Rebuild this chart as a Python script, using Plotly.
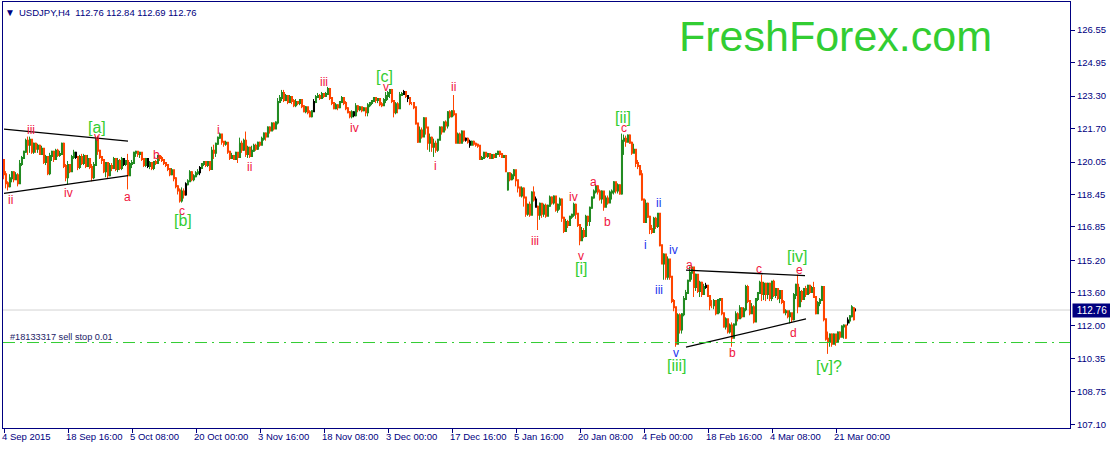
import plotly.graph_objects as go

# USDJPY H4 bars
opens = [
120.15,119.45,119.00,118.85,119.25,119.55,119.20,119.40,119.00,119.95,
120.25,120.55,121.10,120.90,121.15,120.55,120.95,120.70,120.85,120.45,
120.70,120.05,120.30,119.50,120.35,120.55,120.20,120.60,120.40,120.45,
120.95,119.85,119.30,119.90,119.60,120.30,120.50,120.30,119.80,120.30,
120.00,120.35,119.85,120.20,119.80,119.30,119.90,121.20,120.60,120.30,
120.15,119.60,120.00,119.40,119.85,119.75,120.20,119.70,120.10,119.75,
120.20,119.95,120.10,119.40,119.95,120.00,120.50,120.55,120.45,120.50,
120.20,119.90,120.20,119.85,120.00,119.75,120.05,120.00,120.35,120.25,
120.15,120.00,119.90,119.70,119.45,119.65,119.25,118.85,118.65,118.15,
118.60,118.45,118.95,119.10,119.55,119.20,119.35,119.50,119.55,119.75,
119.95,120.05,119.90,120.05,119.70,120.60,120.50,120.95,121.25,121.40,
121.05,120.95,121.00,120.55,120.25,120.35,120.20,120.50,120.30,120.95,
120.65,121.10,120.45,120.75,120.35,120.60,120.85,120.70,121.00,120.90,
121.20,121.45,121.30,121.75,121.60,121.95,121.70,122.00,123.00,123.20,
123.45,123.10,123.30,123.00,123.25,123.05,122.85,123.00,122.95,123.10,
122.80,122.55,122.75,122.50,122.30,122.55,123.00,123.25,123.30,123.20,
123.40,123.30,123.40,123.65,123.20,122.95,122.70,122.85,122.75,123.00,
123.20,122.95,122.70,122.50,122.30,122.50,122.35,122.80,122.65,122.75,
122.60,122.70,122.50,122.85,122.95,123.05,123.20,123.10,123.15,122.90,
122.85,123.10,123.30,123.45,123.60,123.05,122.50,122.90,122.70,123.35,
123.40,123.50,123.30,123.20,122.95,122.95,122.75,121.95,121.05,121.60,
121.30,122.20,121.75,121.00,121.25,120.80,120.95,120.65,121.15,121.75,
121.55,122.00,121.85,122.50,122.30,122.55,122.40,121.00,121.40,121.00,
121.55,121.15,121.20,121.05,120.90,121.05,120.95,120.90,120.85,120.20,
120.25,120.50,120.35,120.45,120.25,120.40,120.30,120.45,120.55,120.45,
120.30,120.35,118.70,119.50,119.20,119.40,119.65,119.15,118.80,118.40,
118.75,118.30,117.50,117.95,117.45,118.55,118.20,117.85,117.45,118.00,
117.50,117.90,117.40,117.90,118.30,118.05,118.35,117.70,117.95,118.20,
117.30,116.65,117.10,116.95,117.35,117.45,117.95,117.50,116.95,116.20,
116.65,116.40,117.35,117.15,117.80,118.30,118.60,118.85,118.60,118.25,
118.60,117.85,118.25,118.05,118.55,118.60,119.05,118.65,118.90,118.50,
121.10,121.20,121.05,121.35,121.00,120.50,120.65,120.00,119.85,119.45,
118.20,117.10,118.00,117.35,116.75,116.60,117.25,116.90,117.50,115.95,
115.05,115.50,114.40,115.25,114.40,113.20,112.90,111.10,112.50,111.80,
112.55,113.30,113.60,114.20,114.60,114.85,113.90,114.50,113.70,114.10,
113.55,113.90,113.95,113.45,113.00,113.00,113.20,112.60,113.25,113.30,
112.60,111.95,112.30,111.70,112.00,111.40,112.05,112.55,112.35,112.85,
112.45,112.80,113.90,113.20,112.60,112.90,112.20,113.30,113.60,114.10,
113.55,114.05,113.55,114.05,113.35,114.15,113.50,113.80,113.35,113.70,
113.15,112.65,112.70,112.45,112.60,112.30,113.50,114.00,112.95,113.65,
113.30,113.80,113.55,113.95,113.65,113.85,113.40,112.60,113.10,113.25,
113.90,112.30,111.35,111.20,111.55,111.10,111.55,111.20,111.65,111.45,
111.95,112.00,112.15,112.25,112.45,112.85,112.76]
highs = [
120.20,119.60,119.10,119.45,119.60,119.60,119.55,119.50,120.15,120.35,
120.60,121.20,121.30,121.30,121.00,121.00,121.00,120.95,120.90,120.85,
120.65,120.40,120.30,120.50,120.60,120.60,120.70,120.70,120.60,121.00,
121.00,119.95,120.10,119.95,120.40,120.65,120.55,120.35,120.40,120.45,
120.45,120.40,120.40,120.25,119.95,120.05,121.30,121.35,120.65,120.35,
120.20,120.05,120.00,120.00,120.00,120.30,120.25,120.25,120.20,120.30,
120.00,120.15,120.45,120.05,120.15,120.55,120.60,120.55,120.55,120.45,
120.20,120.25,120.05,120.10,120.05,120.10,120.15,120.40,120.40,120.35,
120.20,120.00,119.95,119.75,119.75,119.65,119.30,118.90,118.75,118.80,
118.75,119.05,119.20,119.65,119.60,119.45,119.60,119.70,119.85,120.00,
120.10,120.10,120.10,120.10,120.80,120.90,121.00,121.30,121.50,121.35,
121.05,121.10,121.00,120.60,120.50,120.40,120.55,120.50,121.25,121.10,
121.20,121.55,120.85,120.80,120.85,120.95,120.95,121.05,121.05,121.30,
121.50,121.50,121.80,121.80,122.00,122.00,122.05,123.20,123.35,123.60,
123.60,123.40,123.35,123.35,123.30,123.15,123.15,123.05,123.15,123.15,
122.85,122.80,122.75,122.60,122.60,123.15,123.35,123.45,123.40,123.50,
123.45,123.50,123.75,123.70,123.25,123.00,122.95,122.90,123.05,123.30,
123.20,123.05,122.75,122.55,122.60,122.55,122.95,122.85,122.80,122.75,
122.75,122.70,122.95,123.00,123.10,123.25,123.25,123.20,123.15,123.00,
123.20,123.50,123.55,123.65,123.65,123.00,123.00,123.00,123.50,123.50,
123.60,123.50,123.30,123.20,123.00,123.00,122.55,121.90,121.80,121.75,
122.25,122.20,121.70,121.45,121.30,121.20,121.10,121.15,121.80,121.80,
122.05,122.10,122.55,122.60,122.60,123.35,122.35,121.50,121.50,121.60,
121.55,121.25,121.25,121.15,121.10,121.10,121.00,120.95,120.80,120.35,
120.55,120.50,120.50,120.45,120.45,120.45,120.50,120.60,120.60,120.50,
120.40,120.40,119.50,119.55,119.50,119.70,119.25,119.00,118.80,118.85,
118.80,118.20,118.00,118.10,118.60,118.85,118.35,117.90,118.05,118.00,
118.00,118.00,117.95,118.40,118.35,118.40,118.35,118.00,118.30,118.25,
117.35,117.25,117.20,117.40,117.50,118.05,118.00,117.50,116.95,116.85,
116.80,117.45,117.40,117.85,118.35,118.70,118.95,118.90,118.70,118.65,
118.55,118.40,118.40,118.65,118.70,119.10,118.95,119.00,118.95,121.45,
121.40,121.35,121.40,121.40,121.05,120.95,120.65,120.15,119.85,119.65,
118.20,118.20,118.05,117.40,116.95,117.35,117.35,117.50,116.70,115.90,
115.55,115.40,115.40,115.15,114.30,113.30,112.90,112.60,112.60,112.60,
113.45,113.75,114.25,114.90,114.95,114.75,114.55,114.50,114.20,114.15,
114.05,114.10,113.95,113.50,113.25,113.30,113.10,113.30,113.35,113.30,
112.60,112.40,112.20,112.10,112.15,112.10,112.70,112.65,113.00,112.90,
112.90,114.00,114.00,113.20,113.10,113.00,113.35,113.65,114.20,114.50,
114.15,114.10,114.10,114.10,114.20,114.25,113.85,113.75,113.75,113.70,
113.25,112.80,112.70,112.75,112.60,113.60,114.05,114.50,113.90,113.75,
113.85,113.95,114.00,114.00,113.95,114.15,113.40,113.20,113.35,113.95,
113.80,112.30,111.70,111.60,111.60,111.60,111.55,111.70,111.70,112.00,
112.05,112.00,112.40,112.50,113.00,112.90,112.84]
lows = [
119.20,118.75,118.65,118.80,119.05,119.05,119.20,118.85,119.00,119.85,
120.20,120.50,120.40,120.50,120.45,120.45,120.50,120.50,120.40,120.40,
119.95,119.90,119.40,119.40,120.10,120.05,120.20,120.30,120.30,120.45,
119.75,119.10,118.95,119.50,119.60,120.20,120.20,119.65,119.70,119.90,
119.90,119.75,119.80,119.70,119.10,119.20,120.50,120.40,120.20,119.95,
119.50,119.30,119.25,119.35,119.60,119.70,119.60,119.55,119.65,119.65,
119.85,119.85,118.70,119.40,119.75,120.00,120.30,120.30,120.25,120.10,
119.80,119.80,119.75,119.70,119.65,119.65,119.90,119.95,120.10,120.05,
119.90,119.80,119.60,119.35,119.40,119.10,118.75,118.45,118.05,118.05,
118.25,118.40,118.90,119.10,119.10,119.10,119.30,119.40,119.40,119.70,
119.85,119.80,119.80,119.60,119.70,120.20,120.30,120.90,121.20,120.90,
120.80,120.85,120.45,120.15,120.20,120.15,120.15,120.00,120.30,120.50,
120.60,120.30,120.25,120.25,120.30,120.55,120.60,120.65,120.80,120.90,
121.10,121.10,121.30,121.45,121.60,121.60,121.70,121.90,122.95,123.05,
123.00,123.05,122.90,122.95,122.90,122.75,122.75,122.85,122.85,122.70,
122.50,122.45,122.40,122.25,122.25,122.55,122.95,123.20,123.10,123.15,
123.20,123.25,123.35,123.10,122.85,122.65,122.65,122.60,122.70,122.95,
122.85,122.60,122.45,122.20,122.20,122.25,122.30,122.50,122.55,122.50,
122.55,122.30,122.30,122.75,122.85,123.00,122.95,122.95,122.80,122.75,
122.85,122.95,123.10,123.20,122.95,122.25,122.40,122.45,122.70,123.30,
123.35,123.20,123.00,122.85,122.85,122.65,121.90,121.00,121.20,121.20,
121.30,121.40,120.65,120.55,120.55,120.30,120.50,120.55,121.20,121.40,
121.55,121.60,121.70,122.20,122.25,122.30,121.00,121.00,120.95,121.00,
121.05,121.05,120.95,120.75,120.90,120.85,120.80,120.75,120.20,120.15,
120.20,120.25,120.25,120.20,120.25,120.20,120.30,120.40,120.30,120.25,
120.25,119.60,118.65,119.10,119.15,119.20,118.85,118.55,118.35,118.30,
117.85,117.35,117.40,117.35,117.50,118.10,117.85,116.70,117.20,117.30,
117.35,117.30,117.45,117.85,117.95,117.95,117.60,117.55,117.70,117.10,
116.55,116.65,116.80,116.95,117.25,117.35,117.25,116.85,115.95,116.30,
116.30,116.35,116.90,116.90,117.75,118.25,118.50,118.45,118.15,118.00,
117.65,117.85,117.95,118.10,118.20,118.45,118.50,118.50,118.45,118.45,
120.40,120.80,121.05,120.95,120.40,120.50,119.80,119.70,119.40,118.15,
117.05,117.55,117.30,116.50,116.50,116.65,116.75,116.80,115.90,115.05,
114.25,114.25,114.25,114.25,113.10,112.70,110.95,111.30,111.60,111.60,
112.45,113.25,113.60,114.20,114.25,113.40,113.70,113.60,113.40,113.40,
113.75,113.80,113.40,112.75,112.85,112.80,112.50,112.65,112.60,112.50,
111.90,111.80,111.60,111.60,110.95,111.50,112.00,112.20,112.35,112.35,
112.50,112.70,113.10,112.50,112.60,112.10,112.20,113.20,113.70,113.20,
113.25,113.20,113.30,113.20,113.20,113.40,113.35,113.25,113.10,113.05,
112.60,112.50,112.35,112.10,112.15,112.25,113.30,112.60,112.95,113.15,
113.40,113.40,113.55,113.55,113.60,113.40,112.55,112.60,112.95,113.20,
112.20,111.25,110.60,110.95,110.95,111.10,111.00,111.20,111.30,111.45,
111.35,111.35,112.00,112.10,112.40,112.25,112.69]
closes = [
119.45,119.00,118.85,119.25,119.55,119.20,119.40,119.00,119.95,120.25,
120.55,121.10,120.90,121.15,120.55,120.95,120.70,120.85,120.45,120.70,
120.05,120.30,119.50,120.35,120.55,120.20,120.60,120.40,120.45,120.95,
119.85,119.30,119.90,119.60,120.30,120.50,120.30,119.80,120.30,120.00,
120.35,119.85,120.20,119.80,119.30,119.90,121.20,120.60,120.30,120.15,
119.60,120.00,119.40,119.85,119.75,120.20,119.70,120.10,119.75,120.20,
119.95,120.10,119.40,119.95,120.00,120.50,120.55,120.45,120.50,120.20,
119.90,120.20,119.85,120.00,119.75,120.05,120.00,120.35,120.25,120.15,
120.00,119.90,119.70,119.45,119.65,119.25,118.85,118.65,118.15,118.60,
118.45,118.95,119.10,119.55,119.20,119.35,119.50,119.55,119.75,119.95,
120.05,119.90,120.05,119.70,120.60,120.50,120.95,121.25,121.40,121.05,
120.95,121.00,120.55,120.25,120.35,120.20,120.50,120.30,120.95,120.65,
121.10,120.45,120.75,120.35,120.60,120.85,120.70,121.00,120.90,121.20,
121.45,121.30,121.75,121.60,121.95,121.70,122.00,123.00,123.20,123.45,
123.10,123.30,123.00,123.25,123.05,122.85,123.00,122.95,123.10,122.80,
122.55,122.75,122.50,122.30,122.55,123.00,123.25,123.30,123.20,123.40,
123.30,123.40,123.65,123.20,122.95,122.70,122.85,122.75,123.00,123.20,
122.95,122.70,122.50,122.30,122.50,122.35,122.80,122.65,122.75,122.60,
122.70,122.50,122.85,122.95,123.05,123.20,123.10,123.15,122.90,122.85,
123.10,123.30,123.45,123.60,123.05,122.50,122.90,122.70,123.35,123.40,
123.50,123.30,123.20,122.95,122.95,122.75,121.95,121.05,121.60,121.30,
122.20,121.75,121.00,121.25,120.80,120.95,120.65,121.15,121.75,121.55,
122.00,121.85,122.50,122.30,122.55,122.40,121.00,121.40,121.00,121.55,
121.15,121.20,121.05,120.90,121.05,120.95,120.90,120.85,120.20,120.25,
120.50,120.35,120.45,120.25,120.40,120.30,120.45,120.55,120.45,120.30,
120.35,119.60,119.50,119.20,119.40,119.65,119.15,118.80,118.40,118.75,
118.30,117.50,117.95,117.45,118.55,118.20,117.85,117.45,118.00,117.50,
117.90,117.40,117.90,118.30,118.05,118.35,117.70,117.95,118.20,117.30,
116.65,117.10,116.95,117.35,117.45,117.95,117.50,116.95,116.20,116.65,
116.40,117.35,117.15,117.80,118.30,118.60,118.85,118.60,118.25,118.60,
117.85,118.25,118.05,118.55,118.60,119.05,118.65,118.90,118.50,121.10,
121.20,121.05,121.35,121.00,120.50,120.65,120.00,119.85,119.45,118.20,
117.10,118.00,117.35,116.75,116.60,117.25,116.90,117.50,115.95,115.05,
115.50,114.40,115.25,114.40,113.20,112.90,111.10,112.50,111.80,112.55,
113.30,113.60,114.20,114.60,114.85,113.90,114.50,113.70,114.10,113.55,
113.90,113.95,113.45,113.00,113.00,113.20,112.60,113.25,113.30,112.60,
111.95,112.30,111.70,112.00,111.40,112.05,112.55,112.35,112.85,112.45,
112.80,113.90,113.20,112.60,112.90,112.20,113.30,113.60,114.10,113.55,
114.05,113.55,114.05,113.35,114.15,113.50,113.80,113.35,113.70,113.15,
112.65,112.70,112.45,112.60,112.30,113.50,114.00,112.95,113.65,113.30,
113.80,113.55,113.95,113.65,113.85,113.40,112.60,113.10,113.25,113.90,
112.30,111.35,111.20,111.55,111.10,111.55,111.20,111.65,111.45,111.95,
112.00,111.40,112.25,112.45,112.90,112.30,112.76]

# bars MT4 drew black (open about equal to close)
black_bars = [36,60,72,91,98,155,175,200,202,231,233,266,351,422,426]

time_ticks = [0,32,64,96,128,160,192,224,256,288,320,352,384,416]
time_labels = ['4 Sep 2015','18 Sep 16:00','5 Oct 08:00','20 Oct 00:00','3 Nov 16:00','18 Nov 08:00',
               '3 Dec 00:00','17 Dec 16:00','5 Jan 16:00','20 Jan 08:00','4 Feb 00:00','18 Feb 16:00',
               '4 Mar 08:00','21 Mar 00:00']
price_ticks = [126.55,124.95,123.30,121.70,120.05,118.45,116.85,115.20,113.60,112.00,110.35,108.75,107.10]

last_price = 112.76
order_price = 111.16

# wave counts
red_labels = ['ii','iii','iv','v','a','b','c','i','ii','iii','v','iv','ii','i','iii','iv','a','b','v','c','a','c','e','d','b']
red_bars = [3,13.5,32,46.5,61.5,76,89,107,122.5,160,191,175,224.5,215.5,265.5,284.5,294.5,301.5,288.5,310,342.5,377.5,397.5,394.5,364]
red_prices = [118.18,121.63,118.52,121.28,118.33,120.39,117.64,121.63,119.80,123.99,123.74,121.72,123.74,119.85,116.16,
              118.33,119.06,117.10,115.42,121.72,114.98,114.78,114.73,111.63,110.65]

blue_labels = ['ii','i','iv','iii','v']
blue_bars = [327,320.5,334.5,327.5,336]
blue_prices = [118.03,115.96,115.72,113.75,110.65]

green_labels = ['[a]','[b]','[c]','[ii]','[i]','[iii]','[iv]','[v]?']
green_bars = [46.5,89.5,190,309.5,288.5,336.5,396.5,412.5]
green_prices = [121.77,117.19,124.28,122.26,114.83,110.05,115.42,110.00]

# triangle lines
trend_lines = {
    'upper_left': ([0,62], [121.67,121.08]),
    'lower_left': ([0,62], [118.50,119.38]),
    'upper_right': ([341,400.5], [114.73,114.45]),
    'lower_right': ([341,401], [110.93,112.32]),
}

navy = '#000080'
up_color = '#228B22'
down_color = '#FF4500'
lime = '#32CD32'
text_font = 'Liberation Sans'

bars = list(range(len(closes)))
keep = [i for i in bars if i not in black_bars]

fig = go.Figure()

for name, (line_x, line_y) in trend_lines.items():
    fig.add_trace(go.Scatter(x=line_x, y=line_y, mode='lines', line=dict(color='black', width=1.3), hoverinfo='skip', showlegend=False))


def add_candles(idx, up, down):
    # thin wicks first, then 2px bodies on top (one candlestick trace has only one line width)
    fig.add_trace(go.Candlestick(
        x=[i - 0.25 for i in idx],
        open=[opens[i] for i in idx],
        high=[highs[i] for i in idx],
        low=[lows[i] for i in idx],
        close=[closes[i] for i in idx],
        increasing=dict(line=dict(color=up, width=1), fillcolor=up),
        decreasing=dict(line=dict(color=down, width=1), fillcolor=down),
        whiskerwidth=0,
        showlegend=False,
    ))
    fig.add_trace(go.Candlestick(
        x=idx,
        open=[opens[i] for i in idx],
        high=[max(opens[i], closes[i]) for i in idx],
        low=[min(opens[i], closes[i]) for i in idx],
        close=[closes[i] for i in idx],
        increasing=dict(line=dict(color=up, width=2), fillcolor=up),
        decreasing=dict(line=dict(color=down, width=2), fillcolor=down),
        whiskerwidth=0,
        showlegend=False,
    ))


add_candles(keep, up_color, down_color)
add_candles(black_bars, 'black', 'black')

fig.add_hline(y=last_price, line=dict(color='#D3D3D3', width=1), layer='below')
fig.add_hline(y=order_price, line=dict(color=lime, width=1, dash='12px,5px,2px,5px'), layer='above')


def add_labels(labels, xs, ys, color, size):
    for label, x, y in zip(labels, xs, ys):
        fig.add_annotation(x=x, y=y, text=label, showarrow=False, font=dict(family=text_font, size=size, color=color))


add_labels(red_labels, red_bars, red_prices, '#F0143C', 12)
add_labels(blue_labels, blue_bars, blue_prices, '#2233EE', 12)
add_labels(green_labels, green_bars, green_prices, lime, 16)

fig.add_annotation(x=415.5, y=126.25, text='FreshForex.com', showarrow=False, font=dict(family=text_font, size=43, color=lime))
fig.add_annotation(x=6.5, y=127.42, text='USDJPY,H4  112.76 112.84 112.69 112.76', xanchor='left', showarrow=False,
                   font=dict(family=text_font, size=9.5, color=navy))
fig.add_annotation(x=3, y=127.42, text='▼', showarrow=False, font=dict(family=text_font, size=10, color=navy))
fig.add_annotation(x=2, y=111.43, text='#18133317 sell stop 0.01', xanchor='left', showarrow=False,
                   font=dict(family=text_font, size=9.2, color='#222266'))
fig.add_annotation(xref='paper', x=1, xshift=2, y=last_price, text='112.76', xanchor='left', showarrow=False, width=36, height=11,
                   bgcolor=navy, font=dict(family=text_font, size=10, color='white'))

fig.update_layout(
    width=1110,
    height=449,
    margin=dict(l=3, r=40, t=2, b=21),
    paper_bgcolor='white',
    plot_bgcolor='white',
    showlegend=False,
    boxgap=0.9,
    font=dict(family=text_font, size=9.5, color=navy),
    xaxis=dict(
        range=[-0.5, 533],
        rangeslider=dict(visible=False),
        tickmode='array',
        tickvals=time_ticks,
        ticktext=time_labels,
        ticklabelposition='outside right',
        ticklabelshift=-3,
        ticks='outside',
        ticklen=4,
        tickcolor=navy,
        showgrid=False,
        zeroline=False,
        showline=True,
        linecolor=navy,
        linewidth=1,
        mirror=True,
    ),
    yaxis=dict(
        side='right',
        range=[106.95, 127.93],
        tickmode='array',
        tickvals=price_ticks,
        ticktext=['%.2f' % p for p in price_ticks],
        ticks='outside',
        ticklen=4,
        tickcolor=navy,
        showgrid=False,
        zeroline=False,
        showline=True,
        linecolor=navy,
        linewidth=1,
        mirror=True,
    ),
)

fig.write_html("out.html", config=dict(displayModeBar=False), post_script="document.body.style.margin='0';")
